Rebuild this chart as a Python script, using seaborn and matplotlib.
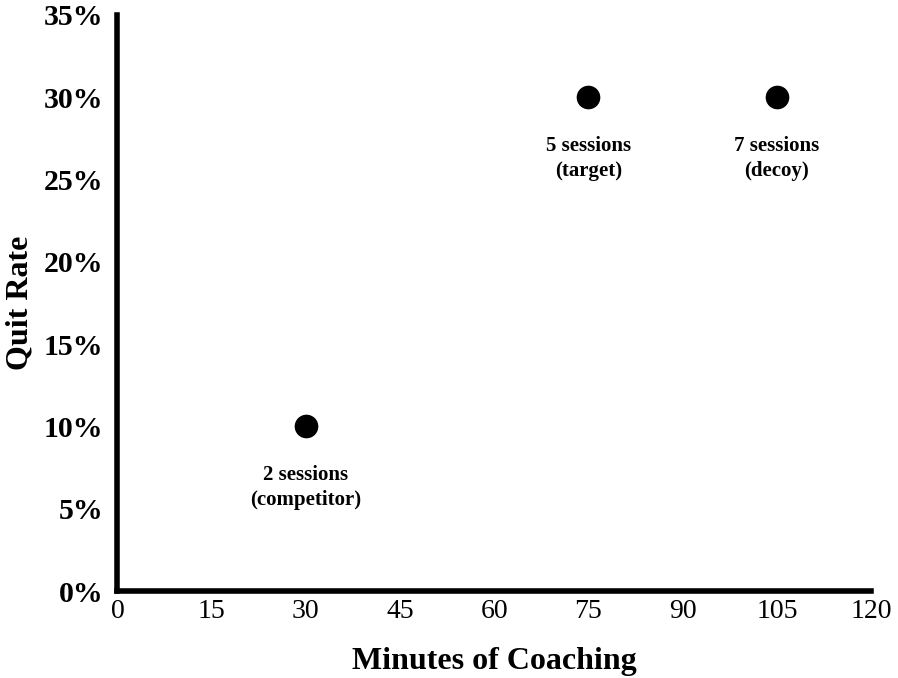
import matplotlib
matplotlib.use("Agg")
import matplotlib.pyplot as plt
import seaborn as sns
import pandas as pd
from matplotlib.ticker import PercentFormatter

minutes = [30, 75, 105]
quit_rate = [0.10, 0.30, 0.30]
labels = ["2 sessions\n(competitor)", "5 sessions\n(target)", "7 sessions\n(decoy)"]
x_ticks = [0, 15, 30, 45, 60, 75, 90, 105, 120]
y_ticks = [0, 0.05, 0.10, 0.15, 0.20, 0.25, 0.30, 0.35]

df = pd.DataFrame({"Minutes": minutes, "Quit": quit_rate, "Label": labels})

sns.set_style("white")
plt.rcParams["font.family"] = ["Liberation Serif", "DejaVu Serif"]
plt.rcParams["text.color"] = "black"
plt.rcParams["axes.labelcolor"] = "black"
plt.rcParams["xtick.color"] = "black"
plt.rcParams["ytick.color"] = "black"

fig = plt.figure(figsize=(8.98, 6.78), dpi=100)
ax = fig.add_axes([0.1308, 0.1283, 0.8392, 0.8497])

sns.scatterplot(data=df, x="Minutes", y="Quit", s=290, color="black",
                edgecolor="black", linewidth=0, ax=ax, legend=False)

for _, row in df.iterrows():
    ax.annotate(row["Label"], (row["Minutes"], row["Quit"]),
                xytext=(0, -28), textcoords="offset points",
                ha="center", va="top", fontsize=15, fontweight="bold",
                linespacing=1.3, color="black")

ax.set_xlim(0, 120)
ax.set_ylim(0, 0.35)
ax.set_xticks(x_ticks)
ax.set_yticks(y_ticks)
ax.yaxis.set_major_formatter(PercentFormatter(1.0, decimals=0))

for s in ["top", "right"]:
    ax.spines[s].set_visible(False)
for s in ["left", "bottom"]:
    ax.spines[s].set_linewidth(4)
    ax.spines[s].set_color("black")

ax.tick_params(axis="y", direction="in", length=5, width=3, labelsize=21.5, pad=10)
ax.tick_params(axis="x", length=0, labelsize=20, pad=6)
for t in ax.get_yticklabels():
    t.set_fontweight("bold")

ax.set_xlabel("Minutes of Coaching", fontsize=23, fontweight="bold", labelpad=16)
ax.set_ylabel("Quit Rate", fontsize=23, fontweight="bold", labelpad=7)

fig.savefig("out.png", dpi=100)
